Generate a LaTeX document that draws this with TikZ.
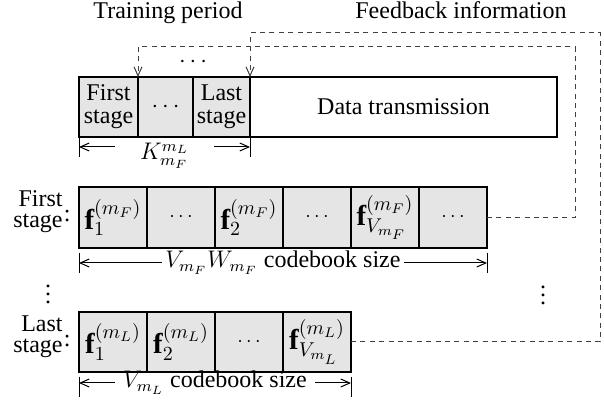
\documentclass[tikz,border=0pt,12pt]{standalone}
\usepackage{fontspec}
\setmainfont{Liberation Serif}
\usetikzlibrary{positioning,arrows.meta}

\begin{document}
\begin{tikzpicture}[
    x=1pt, y=1pt,
    >={Straight Barb[length=4.5pt,width=4pt]},
    cell/.style={rectangle, draw, line width=1pt, fill=gray!20, minimum width=34pt, minimum height=30.5pt, inner sep=0pt, outer sep=0pt, align=center, font=\fontsize{12}{11.5}\selectfont},
    mathcell/.style={cell, font=\large},
    datacell/.style={cell, fill=white},
    stagelabel/.style={align=right, anchor=east, inner sep=0pt, font=\fontsize{12}{10.5}\selectfont},
    colon/.style={inner sep=0pt},
    feedback/.style={black!75, line width=0.5pt, dash pattern=on 2.5pt off 2.2pt, ->},
    sizearrow/.style={line width=0.5pt, ->},
    sizebar/.style={line width=0.5pt},
    sizetext/.style={anchor=base, inner sep=0pt}
]
    \useasboundingbox (0,0) rectangle (302,202.5);

    % Frame structure
    \node [cell, minimum width=29.5pt, minimum height=30pt, anchor=west] (t1) at (39.5,149) {First\\stage};
    \node [cell, minimum width=27.5pt, minimum height=30pt, right=0pt of t1] (t2) {$\cdots$};
    \node [cell, minimum width=28.5pt, minimum height=30pt, right=0pt of t2] (t3) {Last\\stage};
    \node [datacell, minimum width=153.5pt, minimum height=30pt, right=0pt of t3] (t4) {Data transmission};
    \node (tdots) at (96.5,171.5) {$\cdots$};

    % Titles
    \node [anchor=base] (train) at (84,193) {Training period};
    \node [anchor=base] (fbinfo) at (230.5,193) {Feedback information};

    % Training length
    \coordinate (kl) at (39.5,129);
    \coordinate (kr) at (125,129);
    \node [sizetext, inner xsep=12.5pt] (ksize) at (82.25,122.5) {$K_{m_F}^{m_L}$};
    \draw [sizebar] (t1.south west) -- ([yshift=-5pt]kl);
    \draw [sizebar] (t3.south east) -- ([yshift=-5pt]kr);
    \draw [sizearrow] (ksize.west |- kl) -- (kl);
    \draw [sizearrow] (ksize.east |- kr) -- (kr);

    % First stage codebook
    \node [stagelabel] (flab) at (31.5,96.5) {First\\stage};
    \node [colon] (fcolon) at (33.6,94.5) {:};
    \node [mathcell, anchor=west] (f1) at (39.5,93.75) {$\mathbf{f}_1^{(m_F)}$};
    \node [cell, right=0pt of f1] (f2) {\footnotesize$\cdots$};
    \node [mathcell, right=0pt of f2] (f3) {$\mathbf{f}_2^{(m_F)}$};
    \node [cell, right=0pt of f3] (f4) {\footnotesize$\cdots$};
    \node [mathcell, right=0pt of f4] (f5) {$\mathbf{f}_{V_{m_F}}^{(m_F)}$};
    \node [cell, right=0pt of f5] (f6) {\footnotesize$\cdots$};

    \coordinate (fl) at (39.5,71);
    \coordinate (fr) at (243.5,71);
    \node [sizetext, inner xsep=1.5pt] (fsize) at (141.5,68.5) {$V_{m_F}W_{m_F}$ codebook size};
    \draw [sizebar] ([yshift=5pt]fl) -- ([yshift=-5pt]fl);
    \draw [sizebar] ([yshift=5pt]fr) -- ([yshift=-5pt]fr);
    \draw [sizearrow] (fsize.west |- fl) -- (fl);
    \draw [sizearrow] (fsize.east |- fr) -- (fr);

    % Stages in between
    \node (ldots) at (24,58.5) {$\vdots$};
    \node (rdots) at (271.5,58) {$\vdots$};

    % Last stage codebook
    \node [stagelabel] (llab) at (31.5,34) {Last\\stage};
    \node [colon] (lcolon) at (33.6,32) {:};
    \node [mathcell, minimum height=30pt, anchor=west] (l1) at (39.5,31.5) {$\mathbf{f}_1^{(m_L)}$};
    \node [mathcell, minimum height=30pt, right=0pt of l1] (l2) {$\mathbf{f}_2^{(m_L)}$};
    \node [cell, minimum height=30pt, right=0pt of l2] (l3) {\footnotesize$\cdots$};
    \node [mathcell, minimum height=30pt, right=0pt of l3] (l4) {$\mathbf{f}_{V_{m_L}}^{(m_L)}$};

    \coordinate (ll) at (39.5,11);
    \coordinate (lr) at (175.5,11);
    \node [sizetext, inner xsep=4pt] (lsize) at (107.5,8.5) {$V_{m_L}$ codebook size};
    \draw [sizebar] ([yshift=3pt]ll) -- ([yshift=-7pt]ll);
    \draw [sizebar] ([yshift=3pt]lr) -- ([yshift=-7pt]lr);
    \draw [sizearrow] (lsize.west |- ll) -- (ll);
    \draw [sizearrow] (lsize.east |- lr) -- (lr);

    % Feedback paths
    \coordinate (fbF) at (287.5,179);
    \coordinate (fbL) at (300,186);
    \draw [feedback] (f6.east) -| (fbF) -| (t1.north east);
    \draw [feedback] (l4.east) -| (fbL) -| (t3.north east);
\end{tikzpicture}
\end{document}
